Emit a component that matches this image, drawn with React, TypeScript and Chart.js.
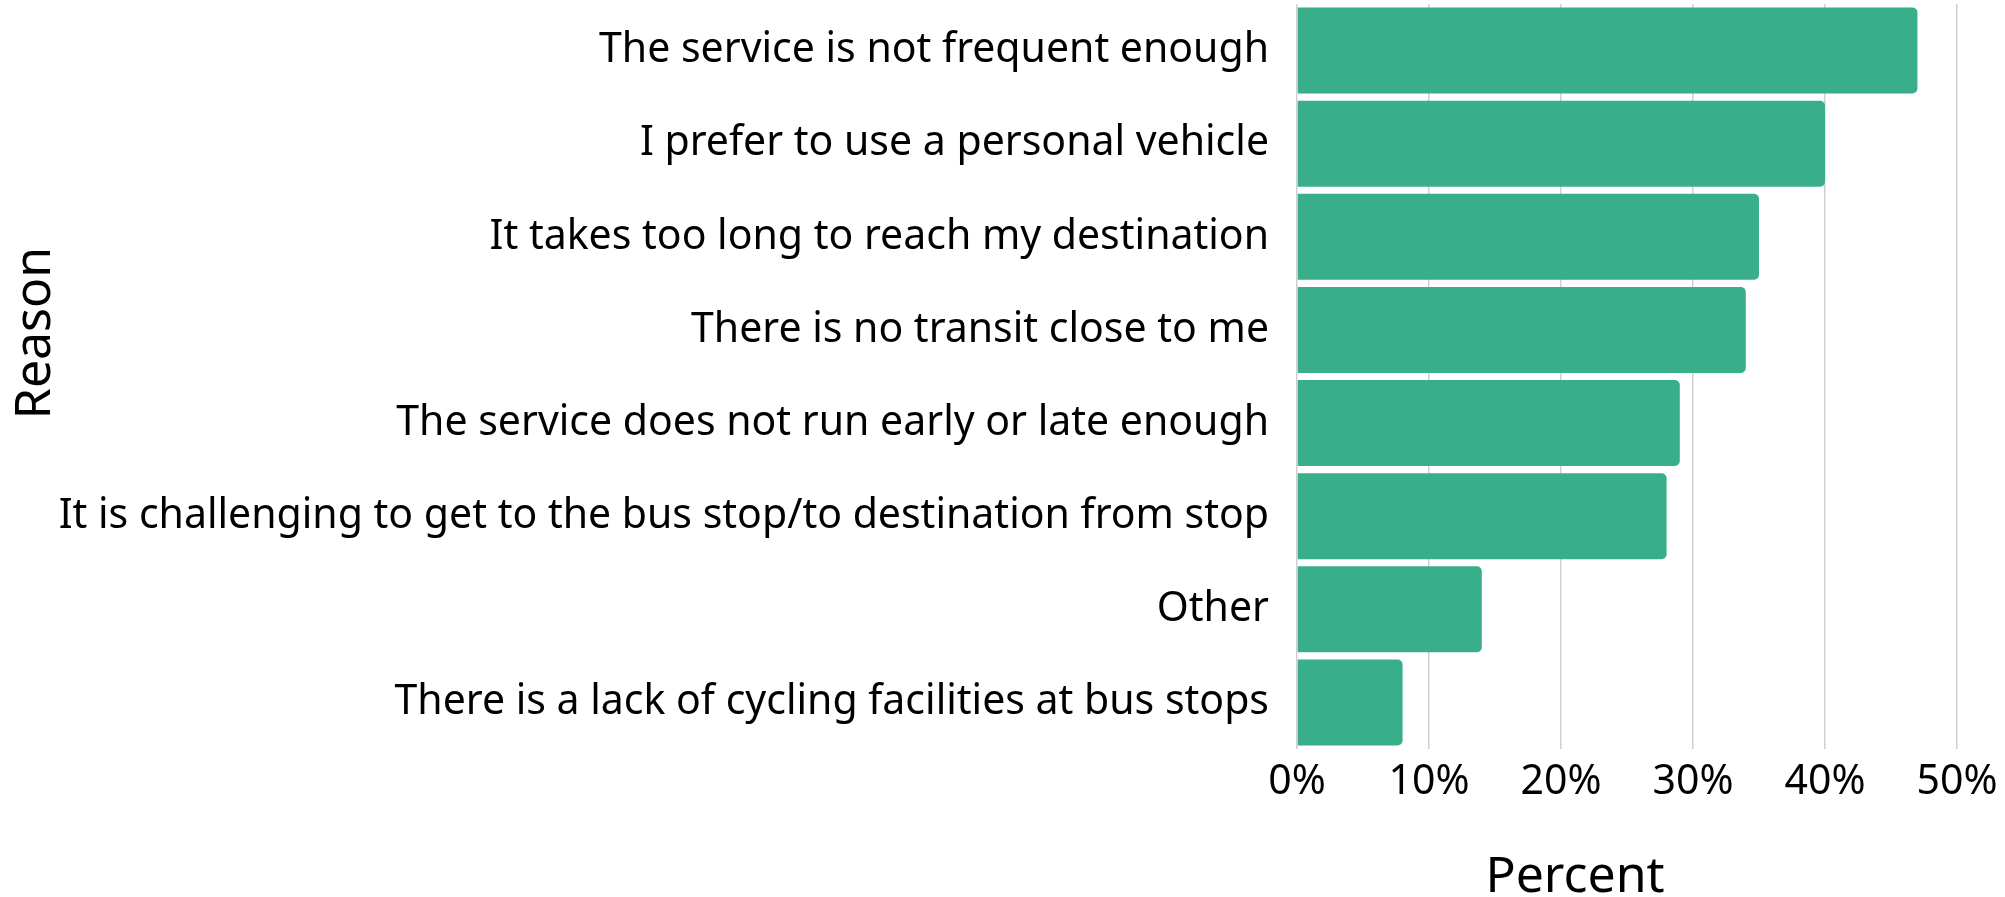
import React, { useEffect, useRef } from "react";
import { Chart, registerables } from "chart.js";

Chart.register(...registerables);

const categories: string[] = [
  "The service is not frequent enough",
  "I prefer to use a personal vehicle",
  "It takes too long to reach my destination",
  "There is no transit close to me",
  "The service does not run early or late enough",
  "It is challenging to get to the bus stop/to destination from stop",
  "Other",
  "There is a lack of cycling facilities at bus stops",
];

const percents: number[] = [47, 40, 35, 34, 29, 28, 14, 8];

const xMin = 0;
const xMax = 50;
const xStep = 10;

const xAxisTitle = "Percent";
const yAxisTitle = "Reason";

const FONT = '"Noto Sans", sans-serif';
const BAR_COLOR = "#38ae8a";
const GRID_COLOR = "#cfcfcf";

const titlePlugin = {
  id: "customAxisTitles",
  afterDraw(chart: any) {
    const ctx = chart.ctx as CanvasRenderingContext2D;
    ctx.save();
    ctx.fillStyle = "#000000";
    ctx.font = `50px ${FONT}`;
    ctx.textAlign = "center";
    ctx.textBaseline = "alphabetic";
    ctx.fillText(xAxisTitle, 1575, 892);
    ctx.translate(50, 333);
    ctx.rotate(-Math.PI / 2);
    ctx.fillText(yAxisTitle, 0, 0);
    ctx.restore();
  },
};

export default function App() {
  const canvasRef = useRef<HTMLCanvasElement | null>(null);

  useEffect(() => {
    if (!canvasRef.current) return;
    const chart = new Chart(canvasRef.current, {
      type: "bar",
      data: {
        labels: categories,
        datasets: [
          {
            data: percents,
            backgroundColor: BAR_COLOR,
            borderWidth: 0,
            borderRadius: 5,
            borderSkipped: "start",
            barPercentage: 0.924,
            categoryPercentage: 1,
          },
        ],
      },
      options: {
        indexAxis: "y",
        responsive: false,
        animation: false,
        layout: { padding: { top: 4, right: 48, left: 0, bottom: 0 } },
        plugins: {
          legend: { display: false },
          tooltip: { enabled: false },
          title: { display: false },
        },
        scales: {
          x: {
            type: "linear",
            min: xMin,
            max: xMax,
            border: { display: false },
            grid: { color: GRID_COLOR, lineWidth: 1.5, drawTicks: false },
            ticks: {
              stepSize: xStep,
              color: "#000000",
              padding: 9,
              font: { family: FONT, size: 41 },
              callback: (v: any) => `${v}%`,
            },
            afterFit: (s: any) => {
              s.height = 148;
              s.paddingLeft = 0;
              s.paddingRight = 0;
            },
          },
          y: {
            type: "category",
            border: { display: false },
            grid: { display: false, drawTicks: false },
            ticks: {
              color: "#000000",
              padding: 28,
              font: { family: FONT, size: 41 },
            },
            afterFit: (s: any) => {
              s.width = 1297;
              s.paddingTop = 0;
              s.paddingBottom = 0;
            },
          },
        },
      },
      plugins: [titlePlugin],
    });
    return () => chart.destroy();
  }, []);

  return (
    <div style={{ position: "fixed", left: 0, top: 0, width: 2005, height: 897, background: "#ffffff" }}>
      <canvas ref={canvasRef} width={2005} height={897} style={{ display: "block" }} />
    </div>
  );
}
